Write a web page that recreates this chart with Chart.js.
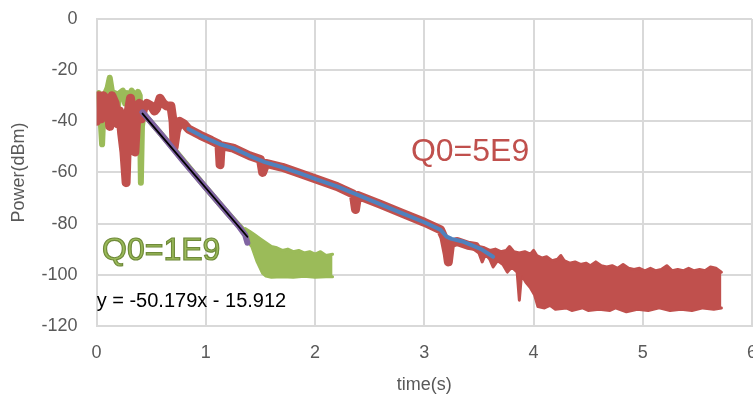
<!DOCTYPE html>
<html>
<head>
<meta charset="utf-8">
<script src="https://cdn.jsdelivr.net/npm/chart.js@4/dist/chart.umd.min.js"></script>
<style>
  html, body { margin: 0; padding: 0; background: #fff; overflow: hidden; }
  canvas { display: block; }
</style>
</head>
<body>
<canvas id="grafico" width="773" height="398"></canvas>
<script>
// eixos
var xTicks = [0, 1, 2, 3, 4, 5, 6];
var yTicks = [-120, -100, -80, -60, -40, -20, 0];

// Q0=5E9 (vermelho) - traço principal
var vermelhoX = [0, 0.015, 0.04, 0.06, 0.08, 0.1, 0.12, 0.14, 0.17, 0.19, 0.21, 0.23, 0.25, 0.27, 0.29, 0.31, 0.33, 0.35, 0.37, 0.39, 0.41, 0.43, 0.46, 0.5, 0.53, 0.55, 0.58, 0.61, 0.64, 0.68, 0.7, 0.71, 0.73, 0.76, 0.8, 0.84, 0.95, 1.05, 1.12, 1.13, 1.14, 1.25, 1.4, 1.5, 1.52, 1.55, 1.7, 1.87, 2.0, 2.2, 2.35, 2.37, 2.39, 2.6, 2.8, 3.0, 3.15, 3.18, 3.21, 3.22, 3.24, 3.3, 3.4, 3.47];
var vermelhoY = [-40, -30, -39, -30, -38, -31, -42, -30, -33, -41, -36, -45, -52, -64, -36, -31, -37, -52, -36, -33, -39, -35, -33, -34, -36, -35, -31, -33, -34, -34, -40, -50, -44, -40, -41, -43, -45.5, -47.5, -49, -57, -49.5, -50.5, -53.5, -55, -60, -56.5, -58, -60.5, -62.5, -65.5, -68.5, -74.5, -69, -72.5, -76, -79.5, -82.5, -85.5, -92, -95, -88, -87, -88.5, -89];

// Q0=5E9 - faixa de ruído (topo e fundo)
var faixaVermX = [3.45, 3.5, 3.55, 3.6, 3.65, 3.7, 3.75, 3.78, 3.82, 3.87, 3.92, 3.97, 4.0, 4.03, 4.08, 4.12, 4.17, 4.22, 4.25, 4.28, 4.33, 4.38, 4.43, 4.48, 4.52, 4.57, 4.62, 4.67, 4.72, 4.77, 4.82, 4.87, 4.92, 4.97, 5.02, 5.07, 5.12, 5.17, 5.22, 5.27, 5.32, 5.37, 5.42, 5.47, 5.52, 5.57, 5.62, 5.67, 5.72];
var faixaVermTopo = [-88.5, -89, -89.5, -90.5, -90, -91, -90.5, -89, -91, -91.5, -91, -92, -90.5, -92.5, -93.5, -93, -94.5, -94, -92.5, -94.5, -95.5, -95, -96, -95.5, -96.5, -95, -96.5, -97, -96.5, -97.5, -96, -97.5, -98, -97.5, -98.5, -97.5, -98.5, -98, -96.5, -98.5, -98, -98.5, -97.5, -98.5, -98, -98.5, -97, -97.5, -99];
var faixaVermFundoX = [3.45, 3.5, 3.53, 3.56, 3.6, 3.63, 3.67, 3.72, 3.76, 3.8, 3.85, 3.87, 3.89, 3.93, 3.97, 4.01, 4.04, 4.1, 4.15, 4.2, 4.3, 4.35, 4.45, 4.5, 4.6, 4.7, 4.75, 4.85, 4.95, 5.05, 5.15, 5.25, 5.35, 5.45, 5.55, 5.65, 5.72];
var faixaVermFundo = [-90, -91.5, -95, -92, -94, -97, -94.5, -96, -99, -97, -99, -110, -100, -103, -105, -108, -112.5, -113, -112, -113.5, -113, -114, -113, -114, -113.5, -114, -113, -114.5, -113.5, -114, -113, -114, -113.5, -114, -113, -113.5, -113];

// Q0=1E9 (verde)
var verdeX = [0, 0.02, 0.035, 0.05, 0.065, 0.08, 0.1, 0.12, 0.135, 0.15, 0.17, 0.19, 0.21, 0.24, 0.26, 0.28, 0.3, 0.32, 0.34, 0.36, 0.38, 0.395, 0.405, 0.415, 0.43, 0.7, 1.0, 1.2, 1.37];
var verdeY = [-30, -29, -38, -49, -33, -29, -27, -23, -27, -31, -29, -36, -29, -28, -33, -29, -30, -28, -29, -36, -28.5, -30, -64, -42, -37, -50.5, -66, -76, -84];
var faixaVerdeX = [1.36, 1.4, 1.45, 1.5, 1.55, 1.6, 1.65, 1.7, 1.75, 1.8, 1.85, 1.9, 1.95, 2.0, 2.05, 2.1, 2.16];
var faixaVerdeTopo = [-82, -83, -84.5, -86, -87.5, -89, -89.5, -90.5, -90, -91, -90.5, -91.5, -91, -92, -91, -92.5, -92];
var faixaVerdeFundoX = [1.36, 1.42, 1.47, 1.52, 1.55, 1.6, 1.7, 1.8, 1.9, 2.0, 2.1, 2.16];
var faixaVerdeFundo = [-86, -89, -95, -99.5, -100.5, -101, -100.8, -101, -100.6, -101, -100.8, -100.8];

// ajustes
var azulX = [0.84, 0.95, 1.05, 1.13, 1.25, 1.4, 1.54, 1.7, 1.87, 2.0, 2.2, 2.4, 2.6, 2.8, 3.0, 3.15, 3.2, 3.25, 3.35, 3.52, 3.63];
var azulY = [-43, -45.5, -47.5, -49, -50.5, -53.5, -56, -58, -60.5, -62.5, -65.5, -69, -72.5, -76, -79.5, -82.5, -85, -86, -87, -90, -93];
var roxoX = [0.42, 0.6, 0.8, 1.0, 1.2, 1.3, 1.36, 1.38];
var roxoY = [-36.5, -45.5, -56, -66, -76, -81, -84.5, -87.5];
var tendX = [0.42, 1.38];
var tendY = [-36.99, -85.16];

function pontos(xs, ys) {
  var r = [];
  for (var i = 0; i < xs.length; i++) r.push({ x: xs[i], y: ys[i] });
  return r;
}

var textos = {
  id: "textos",
  afterDatasetsDraw: function (chart) {
    var ctx = chart.ctx;
    var sx = chart.scales.x;
    var sy = chart.scales.y;
    ctx.save();
    ctx.textAlign = "left";
    ctx.textBaseline = "alphabetic";

    ctx.font = "32px 'Liberation Sans', Arial, sans-serif";
    ctx.fillStyle = "#C0504D";
    ctx.fillText("Q0=5E9", sx.getPixelForValue(2.877), sy.getPixelForValue(-55.6));

    ctx.fillStyle = "#9BBB59";
    ctx.strokeStyle = "#6F8A3A";
    ctx.lineWidth = 1.2;
    var qx = sx.getPixelForValue(0.05), qy = sy.getPixelForValue(-94.2);
    ctx.fillText("Q0=1E9", qx, qy);
    ctx.strokeText("Q0=1E9", qx, qy);

    ctx.font = "20px 'Liberation Sans', Arial, sans-serif";
    ctx.fillStyle = "#000000";
    ctx.fillText("y = -50.179x - 15.912", sx.getPixelForValue(0), sy.getPixelForValue(-112.6));
    ctx.restore();
  },
};

var linha = function (dados, cor, largura, ordem, extra) {
  var d = {
    data: dados,
    borderColor: cor,
    backgroundColor: cor,
    borderWidth: largura,
    pointRadius: 0,
    tension: 0,
    showLine: true,
    borderCapStyle: "round",
    borderJoinStyle: "round",
    fill: false,
    order: ordem,
  };
  for (var k in extra) d[k] = extra[k];
  return d;
};

var fonte = { size: 18, family: "'Liberation Sans', Arial, sans-serif" };

var graf = document.getElementById("grafico").getContext("2d");
var grafico = new Chart(graf, {
  type: "scatter",
  data: {
    datasets: [
      linha(pontos(tendX, tendY), "#000000", 1.8, 0),
      linha(pontos(roxoX, roxoY), "#8064A2", 6, 1),
      linha(pontos(azulX, azulY), "#4F81BD", 4, 2),
      linha(pontos(vermelhoX, vermelhoY), "#C0504D", 9, 3),
      linha(pontos(faixaVermX, faixaVermTopo), "#C0504D", 3, 4, { fill: "+1" }),
      linha(pontos(faixaVermFundoX, faixaVermFundo), "#C0504D", 3, 5),
      linha(pontos(verdeX, verdeY), "#9BBB59", 6, 6),
      linha(pontos(faixaVerdeX, faixaVerdeTopo), "#9BBB59", 3, 7, { fill: "+1" }),
      linha(pontos(faixaVerdeFundoX, faixaVerdeFundo), "#9BBB59", 3, 8),
    ],
  },
  options: {
    responsive: false,
    animation: false,
    events: [],
    layout: { padding: { left: 2, right: 9, top: 19, bottom: 0 } },
    plugins: { legend: { display: false }, tooltip: { enabled: false } },
    scales: {
      x: {
        type: "linear",
        min: 0,
        max: 6,
        afterBuildTicks: function (axis) {
          axis.ticks = xTicks.map(function (v) { return { value: v }; });
        },
        grid: { color: "#D9D9D9", lineWidth: 2, drawTicks: false },
        border: { color: "#D9D9D9", width: 2 },
        ticks: { color: "#595959", padding: 16, font: fonte },
        title: {
          display: true,
          text: "time(s)",
          color: "#595959",
          font: fonte,
          padding: { top: -5, bottom: 2 },
        },
      },
      y: {
        type: "linear",
        min: -120,
        max: 0,
        afterBuildTicks: function (axis) {
          axis.ticks = yTicks.map(function (v) { return { value: v }; });
        },
        afterFit: function (axis) {
          axis.paddingTop = 0;
          axis.paddingBottom = 0;
        },
        grid: { color: "#D9D9D9", lineWidth: 2, drawTicks: false },
        border: { color: "#D9D9D9", width: 2 },
        ticks: { color: "#595959", padding: 19, font: fonte },
        title: {
          display: true,
          text: "Power(dBm)",
          color: "#595959",
          font: fonte,
          padding: { top: 6, bottom: -7 },
        },
      },
    },
  },
  plugins: [textos],
});
</script>
</body>
</html>
